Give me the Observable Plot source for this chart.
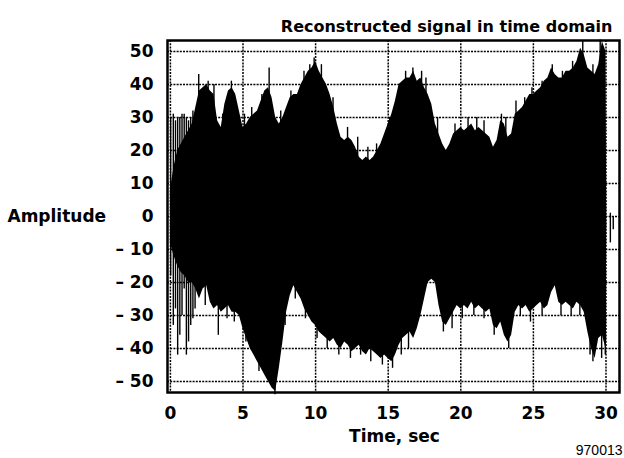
<!DOCTYPE html>
<html><head><meta charset="utf-8">
<script src="https://cdn.jsdelivr.net/npm/d3@7"></script>
<script src="https://cdn.jsdelivr.net/npm/@observablehq/plot@0.6"></script>
<style>html,body{margin:0;padding:0;background:#fff} svg{display:block}</style>
</head><body><div id="chart"></div>
<script>
const titleText = "Reconstructed signal in time domain";
const yLabel = "Amplitude";
const xLabel = "Time, sec";
const caption = "970013";
const xTicks = [0, 5, 10, 15, 20, 25, 30];
const yTicks = [50, 40, 30, 20, 10, 0, -10, -20, -30, -40, -50];

// Envelope of the reconstructed signal (seconds, amplitude)
const time = [0,0.25,0.5,0.75,1,1.25,1.5,1.75,2,2.25,2.5,2.75,3,3.25,3.5,3.75,4,4.25,4.5,4.75,
  5,5.25,5.5,5.75,6,6.25,6.5,6.75,7,7.25,7.5,7.75,8,8.25,8.5,8.75,9,9.25,9.5,9.75,
  10,10.25,10.5,10.75,11,11.25,11.5,11.75,12,12.25,12.5,12.75,13,13.25,13.5,13.75,14,14.25,14.5,14.75,
  15,15.25,15.5,15.75,16,16.25,16.5,16.75,17,17.25,17.5,17.75,18,18.25,18.5,18.75,19,19.25,19.5,19.75,
  20,20.25,20.5,20.75,21,21.25,21.5,21.75,22,22.25,22.5,22.75,23,23.25,23.5,23.75,24,24.25,24.5,24.75,
  25,25.25,25.5,25.75,26,26.25,26.5,26.75,27,27.25,27.5,27.75,28,28.25,28.5,28.75,29,29.25,29.5,29.75,
  30,30.05];
const upper = [8,15,20,22,24,26,28,33,38,39,40,38,37,29,27,34,38,39,37,32,
  27,28,30,31,32,35,38,39,36,30,28,30,33,36,37,37,40,42,44,45,
  47,44,42,40,37,33,28,24,23,24,23,21,18,17,18,17,18,20,22,25,
  28,31,35,40,41,42,42,44,41,42,39,37,34,28,25,22,20,22,25,26,
  27,26,27,28,26,27,26,25,24,21,23,29,28,24,25,31,32,33,35,37,
  37,38,39,41,42,45,43,42,42,44,44,45,47,51,49,45,44,43,46,53,
  50,1];
const lower = [-8,-12,-15,-17,-18,-20,-20,-22,-25,-22,-21,-26,-28,-27,-29,-28,-27,-29,-29,-30,
  -34,-37,-40,-42,-44,-46,-48,-50,-52,-53,-46,-38,-29,-24,-21,-23,-25,-28,-30,-32,
  -33,-35,-36,-37,-38,-37,-39,-40,-38,-39,-41,-40,-39,-41,-42,-40,-41,-42,-43,-42,
  -43,-44,-42,-39,-37,-36,-35,-37,-34,-30,-25,-20,-19,-20,-27,-32,-33,-31,-29,-27,
  -28,-27,-28,-26,-28,-27,-28,-29,-28,-33,-34,-32,-36,-38,-36,-29,-27,-28,-27,-29,
  -28,-27,-26,-28,-27,-23,-21,-26,-27,-26,-27,-28,-26,-27,-29,-35,-40,-43,-37,-36,
  -40,-3];

// Isolated thin lines (start and end of the record)
const spikeT =   [0.02, 0.2, 0.35, 0.5, 0.65, 0.8, 0.95, 1.1, 1.25, 1.4, 1.55, 1.7, 1.95, 3.3, 30.3, 30.5];
const spikeTop = [30, 31, 29, 30, 30, 31, 31, 30, 29, 30, 32, 31, 43, 10, 1, 0];
const spikeBot = [-18, -33, -28, -42, -36, -30, -22, -42, -38, -33, -31, -28, -10, -36, -8, -4];

// Peaks sticking out of the upper edge
const peakUpT = [2.6, 3.0, 3.6, 4.2, 5.1, 5.6, 6.3, 6.8, 7.6, 8.3, 9.2, 9.6, 9.9, 10.4, 11.2, 12.2, 12.9, 13.6, 14.2, 15.1,
  16.2, 16.7, 17.3, 17.6, 18.4, 19.6, 20.5, 21.1, 21.6, 22.8, 23.1, 23.8, 24.4, 24.9, 25.6, 26.3, 27.0, 27.7, 28.4, 29.1, 29.6];
const peakUpV = [41, 40, 31, 41, 31, 33, 37, 45, 32, 38, 44, 46, 48, 46, 36, 27, 24, 21, 22, 30,
  44, 45, 44, 42, 30, 28, 30, 30, 29, 31, 30, 35, 36, 39, 41, 46, 44, 47, 53, 46, 53.5];
// Peaks sticking out of the lower edge
const peakLowT = [2.4, 3.9, 4.4, 5.2, 6.1, 7.2, 7.9, 8.6, 9.3, 10.1, 10.8, 11.6, 12.4, 13.1, 13.8, 14.6, 15.3, 15.9, 16.4,
  18.8, 19.4, 20.1, 20.9, 21.6, 22.3, 23.3, 24.1, 24.8, 25.6, 26.9, 27.6, 28.2, 28.9, 29.1, 29.7, 29.95];
const peakLowV = [-27, -31, -32, -38, -47, -54, -33, -25, -31, -37, -40, -42, -43, -42, -44, -45, -46, -42, -40,
  -35, -34, -31, -30, -31, -36, -40, -30, -32, -30, -30, -30, -30, -42, -44, -43, -42];

const signal = time.map((t, i) => ({t, lo: lower[i], hi: upper[i]}));
const spikes = spikeT.map((t, i) => ({t, lo: spikeBot[i], hi: spikeTop[i]}))
  .concat(peakUpT.map((t, i) => ({t, lo: 0, hi: peakUpV[i]})))
  .concat(peakLowT.map((t, i) => ({t, lo: peakLowV[i], hi: 0})));

const grid = {stroke: "#000", strokeWidth: 1.5, strokeDasharray: "2,1.2"};

const chart = Plot.plot({
  width: 624, height: 458,
  marginLeft: 167, marginRight: 5, marginTop: 40, marginBottom: 66,
  x: {domain: [-0.2, 30.93]},
  y: {domain: [-53.33, 53.33]},
  style: {fontFamily: "'DejaVu Sans', sans-serif", fontSize: "17px", fontWeight: "bold", background: "#fff", color: "#000"},
  marks: [
    Plot.ruleX(xTicks, grid),
    Plot.ruleY(yTicks, grid),
    Plot.areaY(signal, {x: "t", y1: "lo", y2: "hi", fill: "#000"}),
    Plot.ruleX(spikes, {x: "t", y1: "lo", y2: "hi", stroke: "#000", strokeWidth: 1.4}),
    Plot.frame({stroke: "#000", strokeWidth: 2.5}),
    Plot.axisX(xTicks, {tickSize: 0, tickPadding: 14, label: null, fontSize: 17, fontWeight: "bold"}),
    Plot.axisY(yTicks, {tickSize: 0, tickPadding: 14, label: null, fontSize: 17, fontWeight: "bold",
      tickFormat: d => d < 0 ? "\u2013 " + (-d) : String(d)}),
    Plot.text([titleText], {frameAnchor: "top-right", dx: -7, dy: -20, textAnchor: "end", fontSize: 16, fontWeight: "bold"}),
    Plot.text([yLabel], {frameAnchor: "left", dx: -160, dy: 0, textAnchor: "start", fontSize: 17, fontWeight: "bold"}),
    Plot.text([xLabel], {frameAnchor: "bottom", dx: 1, dy: 49, fontSize: 17, fontWeight: "bold"}),
    Plot.text([caption], {frameAnchor: "bottom-right", dx: 3, dy: 62, textAnchor: "end", fontSize: 14, fontWeight: "normal", fontFamily: "'Liberation Sans', Arial, sans-serif"})
  ]
});
document.getElementById("chart").appendChild(chart);
</script>
</body></html>
